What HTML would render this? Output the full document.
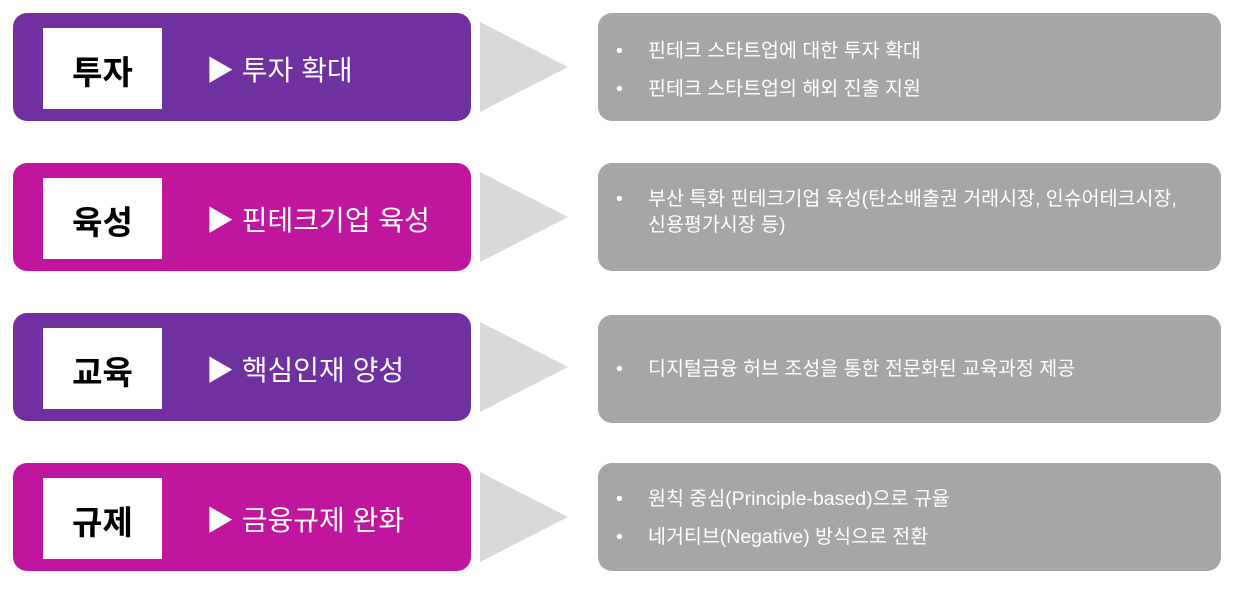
<!DOCTYPE html>
<html><head><meta charset="utf-8"><style>
body{margin:0;width:1241px;height:597px;background:#fff;position:relative;overflow:hidden;font-family:"Liberation Sans","Noto Sans CJK KR",sans-serif}
.l{position:absolute;left:13px;width:458px;height:108px;border-radius:14px}
.w{position:absolute;left:30px;top:15px;width:119px;height:81px;background:#fff;color:#000;font-weight:bold;font-size:33px;display:flex;align-items:center;justify-content:center;padding-top:3px;box-sizing:border-box}
.t{position:absolute;left:193px;top:2px;height:108px;display:flex;align-items:center;color:#fff;font-size:28px;white-space:nowrap}
.tri{position:absolute;left:480px;width:0;height:0;border-top:45px solid transparent;border-bottom:45px solid transparent;border-left:88px solid #d9d9d9}
.g{position:absolute;left:598px;width:623px;height:108px;border-radius:14px;background:#a6a6a6;color:#fff;font-size:19.5px;display:flex;flex-direction:column;justify-content:center;padding-top:6px;box-sizing:border-box}
.g div{position:relative;padding-left:50px;line-height:28px;margin:5px 0}
.g div:before{content:"•";position:absolute;left:18px}
.p{background:#7030a0}.m{background:#c0169e}
</style></head><body>
<div class="l p" style="top:13px"><div class="w">투자</div><div class="t">▶ 투자 확대</div></div>
<div class="tri" style="top:22px"></div>
<div class="g" style="top:13px"><div>핀테크 스타트업에 대한 투자 확대</div><div>핀테크 스타트업의 해외 진출 지원</div></div>

<div class="l m" style="top:163px"><div class="w">육성</div><div class="t">▶ 핀테크기업 육성</div></div>
<div class="tri" style="top:172px"></div>
<div class="g" style="top:163px"><div style="line-height:26px;margin-top:-12px">부산 특화 핀테크기업 육성(탄소배출권 거래시장, 인슈어테크시장,<br>신용평가시장 등)</div></div>

<div class="l p" style="top:313px"><div class="w">교육</div><div class="t">▶ 핵심인재 양성</div></div>
<div class="tri" style="top:322px"></div>
<div class="g" style="top:315px;padding-top:0px"><div>디지털금융 허브 조성을 통한 전문화된 교육과정 제공</div></div>

<div class="l m" style="top:463px"><div class="w">규제</div><div class="t">▶ 금융규제 완화</div></div>
<div class="tri" style="top:472px"></div>
<div class="g" style="top:463px;padding-top:2px"><div>원칙 중심(Principle-based)으로 규율</div><div>네거티브(Negative) 방식으로 전환</div></div>
</body></html>
